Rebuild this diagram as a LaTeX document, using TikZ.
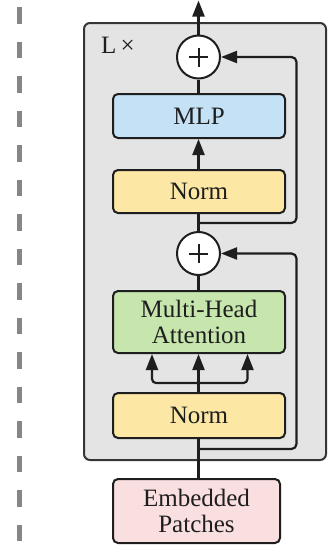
\documentclass[tikz,border=0pt]{standalone}
\usepackage{fontspec}
\setmainfont{Liberation Serif}
\usetikzlibrary{arrows.meta}
\definecolor{normc}{HTML}{FDE7A5}
\definecolor{mlpc}{HTML}{C4E1F6}
\definecolor{mhac}{HTML}{C7E6AE}
\definecolor{embc}{HTML}{FADFE1}
\definecolor{layc}{HTML}{E4E4E4}
\definecolor{ink}{HTML}{1E1E1E}
\begin{document}
\begin{tikzpicture}[x=1pt,y=-1pt,
  blk/.style={draw=ink, line width=2pt, rounded corners=5pt, minimum width=172pt,
    inner sep=0pt, align=center, text=ink, font=\fontsize{25}{25.5}\selectfont},
  conn/.style={line width=2.2pt, draw=ink},
  arr/.style={conn, -{Triangle[width=12pt,length=16pt]}},
  addc/.style={circle, draw=ink, line width=2pt, fill=white, minimum size=43pt, inner sep=0pt},
  plusl/.style={line width=2pt, draw=ink}]
\useasboundingbox (0,0) rectangle (331,546);
% dashed separator
\draw[gray!95, line width=4.5pt, dash pattern=on 16.5pt off 18pt] (19.5,7) -- (19.5,546);
% layer box
\node[draw=ink!90, fill=layc, line width=2pt, rounded corners=6pt,
  minimum width=242pt, minimum height=437pt, inner sep=0pt] (layer) at (205,241.5) {};
\node[text=ink, font=\fontsize{25}{26}\selectfont, inner sep=0pt] (lx) at (118,45) {L\,×};
% blocks
\node[blk, fill=mlpc, minimum height=44pt] (mlp) at (199,116) {MLP};
\node[blk, fill=normc, minimum height=43pt] (norm1) at (199,191.5) {Norm};
\node[blk, fill=mhac, minimum height=62pt] (mha) at (199,322) {Multi-Head\\Attention};
\node[blk, fill=normc, minimum height=45pt] (norm2) at (199,415.5) {Norm};
\node[blk, fill=embc, minimum width=167pt, minimum height=64pt] (emb) at (196.5,511) {Embedded\\Patches};
% adders
\node[addc] (add1) at (198.5,57) {};
\node[addc] (add2) at (198.5,253.5) {};
\draw[plusl] (add1.center) ++(-9.5,0) -- ++(19,0);
\draw[plusl] (add1.center) ++(0,-9.5) -- ++(0,19);
\draw[plusl] (add2.center) ++(-9.5,0) -- ++(19,0);
\draw[plusl] (add2.center) ++(0,-9.5) -- ++(0,19);
% coordinates
\coordinate (out) at (198.5,0.5);
\coordinate (r1) at (198.5,223);
\coordinate (r2) at (198.5,449);
\coordinate (br) at (198.5,383);
\coordinate (h1) at (152,354);
\coordinate (h3) at (247.5,354);
% main path
\draw[arr] (add1.north) -- (out);
\draw[conn] (mlp.north -| add1.south) -- (add1.south);
\draw[arr] (norm1.north -| add1.south) -- (mlp.south -| add1.south);
\draw[conn] (norm1.south -| add2.north) -- (add2.north);
\draw[conn] (add2.south) -- (mha.north -| add2.south);
\draw[conn] (norm2.north -| br) -- (br);
\draw[arr, rounded corners=4pt] (br) -| (h1);
\draw[arr] (br) -- (mha.south -| br);
\draw[arr, rounded corners=4pt] (br) -| (h3);
\draw[conn] (emb.north -| r2) -- (norm2.south -| r2);
% residuals
\draw[arr, rounded corners=5pt] (r1) -- (296.5,223) -- (296.5,57) -- (add1.east);
\draw[arr, rounded corners=5pt] (r2) -- (296.5,449) -- (296.5,253.5) -- (add2.east);
\end{tikzpicture}
\end{document}
